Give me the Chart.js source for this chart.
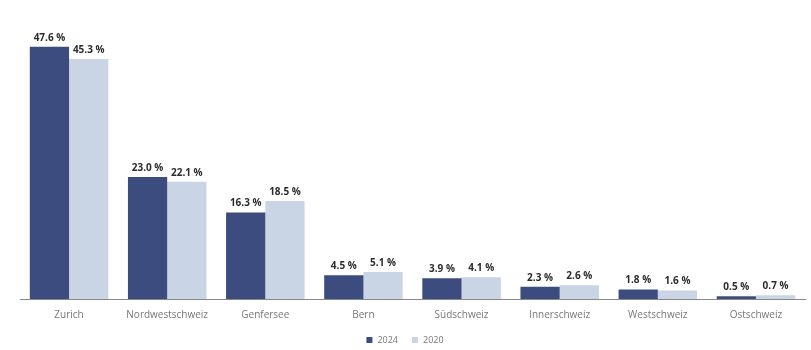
<!DOCTYPE html>
<html>
<head>
<meta charset="utf-8">
<script src="https://cdn.jsdelivr.net/npm/chart.js@4"></script>
<style>
  html,body{margin:0;padding:0;background:#fff;}
  #wrap{width:811px;height:350px;position:relative;}
</style>
</head>
<body>
<div id="wrap"><canvas id="chart"></canvas></div>
<script>
const regions = ['Zurich','Nordwestschweiz','Genfersee','Bern','Südschweiz','Innerschweiz','Westschweiz','Ostschweiz'];
const share2024 = [47.6, 23.0, 16.3, 4.5, 3.9, 2.3, 1.8, 0.5];
const share2020 = [45.3, 22.1, 18.5, 5.1, 4.1, 2.6, 1.6, 0.7];
const yearLabels = ['2024','2020'];

// value labels on top of each bar
const valueLabels = {
  id:'valueLabels',
  afterDatasetsDraw(chart){
    const ctx = chart.ctx;
    ctx.save();
    ctx.font = 'bold 10px "Open Sans", sans-serif';
    ctx.fillStyle = '#2b2b2b';
    ctx.textAlign = 'center';
    ctx.textBaseline = 'bottom';
    chart.data.datasets.forEach((ds,i)=>{
      chart.getDatasetMeta(i).data.forEach((bar,j)=>{
        ctx.fillText(ds.data[j].toFixed(1) + ' %', bar.x, bar.y - 4);
      });
    });
    ctx.restore();
  }
};

// small legend centred under the axis
const bottomLegend = {
  id:'bottomLegend',
  afterDraw(chart){
    const ctx = chart.ctx;
    const y = 340;
    ctx.save();
    ctx.font = '9px "Open Sans", sans-serif';
    ctx.textBaseline = 'middle';
    const items = chart.data.datasets.map(ds=>({text:ds.label, color:ds.backgroundColor, w:ctx.measureText(ds.label).width}));
    const gap = 14, box = 6, boxGap = 5;
    let total = items.reduce((s,it)=>s+box+boxGap+it.w,0) + gap*(items.length-1);
    let x = 405 - total/2;
    items.forEach(it=>{
      ctx.fillStyle = it.color;
      ctx.fillRect(x, y-box/2, box, box);
      x += box + boxGap;
      ctx.fillStyle = '#777';
      ctx.fillText(it.text, x, y);
      x += it.w + gap;
    });
    ctx.restore();
  }
};

new Chart(document.getElementById('chart'), {
  type:'bar',
  data:{
    labels: regions,
    datasets:[
      {label:yearLabels[0], data:share2024, backgroundColor:'#3d4c7e'},
      {label:yearLabels[1], data:share2020, backgroundColor:'#c9d4e4'}
    ]
  },
  options:{
    responsive:true,
    maintainAspectRatio:false,
    animation:false,
    layout:{padding:{left:20, right:6, top:34, bottom:19}},
    datasets:{bar:{categoryPercentage:0.8, barPercentage:1.0}},
    scales:{
      x:{
        grid:{display:false, drawTicks:false},
        border:{color:'#888', width:1},
        ticks:{color:'#777', font:{family:'"Open Sans", sans-serif', size:10}, padding:10}
      },
      y:{display:false, min:0, max:50}
    },
    plugins:{
      legend:{display:false},
      tooltip:{enabled:false}
    }
  },
  plugins:[valueLabels, bottomLegend]
});
</script>
</body>
</html>
